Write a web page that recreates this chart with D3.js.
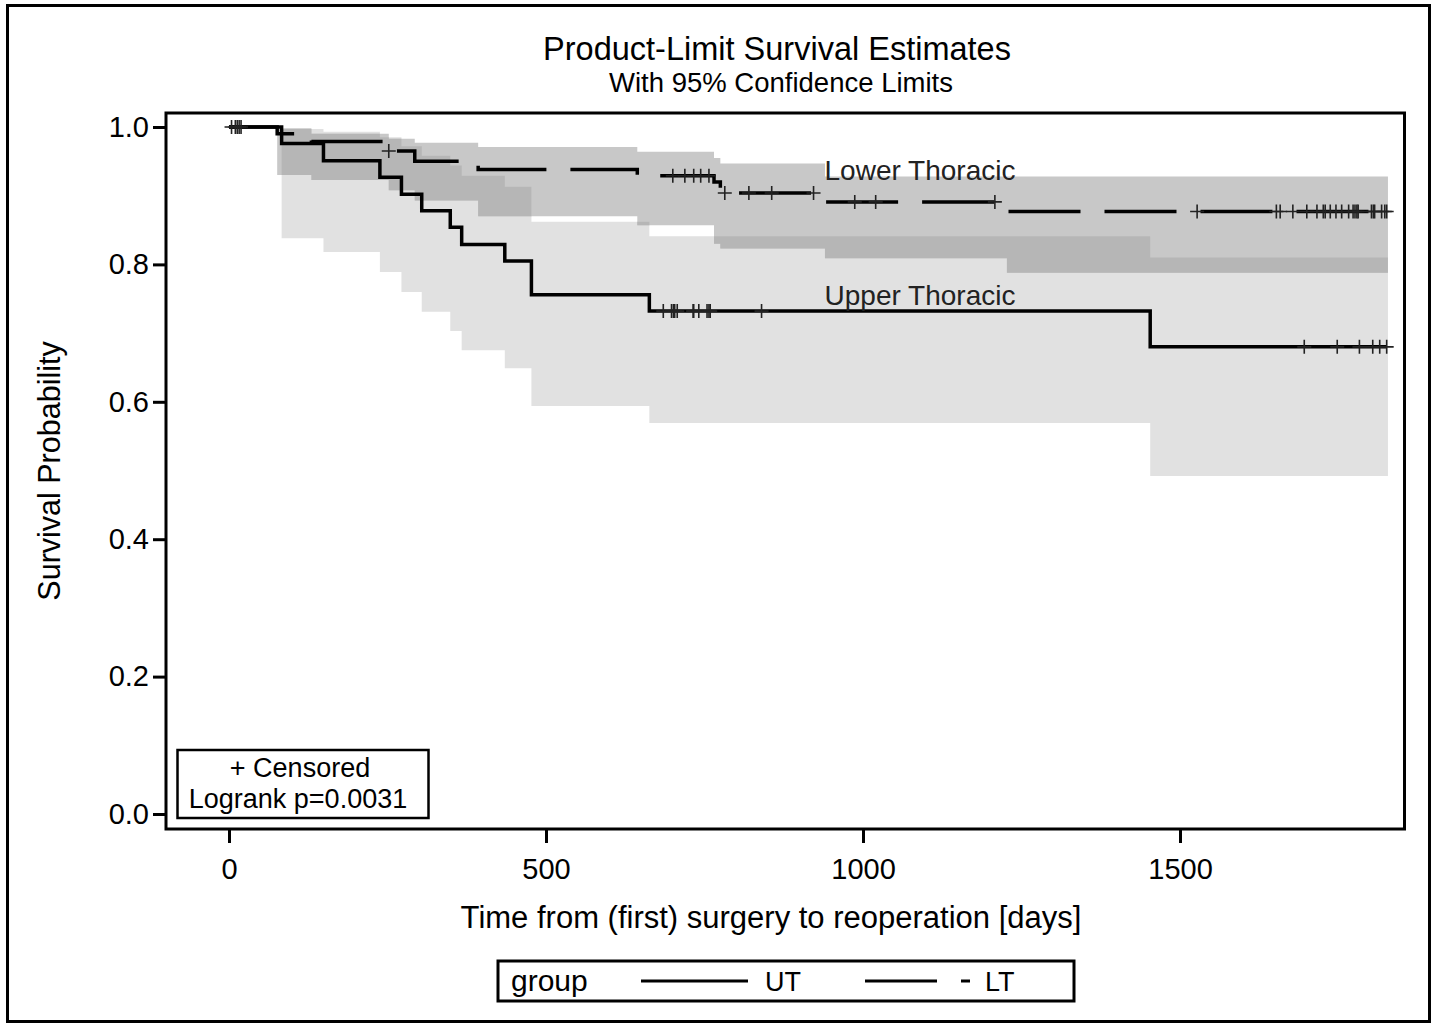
<!DOCTYPE html>
<html><head><meta charset="utf-8">
<script src="https://cdn.jsdelivr.net/npm/d3@7"></script>
<style>
body{margin:0;background:#fff}
text{font-family:"Liberation Sans",Arial,sans-serif;fill:#000}
</style>
</head><body>
<svg id="c" width="1437" height="1023"></svg>
<script>
// ---------- data ----------
const xTicks = [0, 500, 1000, 1500];
const yTicks = [0.0, 0.2, 0.4, 0.6, 0.8, 1.0];

// Upper Thoracic (UT) - solid
const utEventTimes = [83, 149, 238, 272, 304, 349, 367, 435, 477, 663, 1453];
const utSurv  = [0.976, 0.951, 0.927, 0.902, 0.878, 0.854, 0.829, 0.805, 0.756, 0.732, 0.680];
const utLower = [0.838, 0.818, 0.789, 0.760, 0.731, 0.703, 0.675, 0.649, 0.594, 0.569, 0.492];
const utUpper = [0.997, 0.993, 0.985, 0.972, 0.958, 0.944, 0.929, 0.913, 0.862, 0.841, 0.810];
const utCensor = [13, 19, 685, 698, 701, 703, 707, 732, 733, 741, 754, 757, 759, 840,
                  1696, 1748, 1783, 1804, 1815, 1826];
const utEnd = 1828;

// Lower Thoracic (LT) - dashed
const ltEventTimes = [76, 130, 252, 293, 393, 644, 765, 775, 940, 1227];
const ltSurv  = [0.990, 0.979, 0.965, 0.950, 0.938, 0.929, 0.920, 0.904, 0.891, 0.877];
const ltLower = [0.930, 0.923, 0.908, 0.893, 0.870, 0.857, 0.830, 0.823, 0.809, 0.788];
const ltUpper = [0.998, 0.990, 0.983, 0.977, 0.971, 0.964, 0.955, 0.947, 0.928, 0.928];
const ltCensor = [4, 10, 16, 252, 700, 719, 733, 744, 757, 782, 820, 856, 922, 987, 1020, 1208,
                  1527, 1652, 1658, 1678, 1700, 1716, 1726, 1729, 1737, 1746, 1755, 1766, 1773,
                  1776, 1779, 1781, 1802, 1805, 1807, 1818, 1823, 1826];
const ltEnd = 1828;

// ---------- layout ----------
const svg = d3.select("#c");
const frame = {l: 166, t: 113, r: 1404.5, b: 829};
const x = d3.scaleLinear().domain([0, 1500]).range([229, 1180]);
const y = d3.scaleLinear().domain([0, 1]).range([814, 127]);

function survAt(times, surv, t) {
  let s = 1;
  for (let i = 0; i < times.length; i++) if (times[i] <= t) s = surv[i];
  return s;
}
function linePts(times, surv, end) {
  const p = [[0, 1]];
  times.forEach((t, i) => p.push([t, surv[i]]));
  p.push([end, surv[surv.length - 1]]);
  return p;
}
function bandPts(times, lo, hi, end) {
  const p = times.map((t, i) => [t, lo[i], hi[i]]);
  p.push([end, lo[lo.length - 1], hi[hi.length - 1]]);
  return p;
}

const area = d3.area().curve(d3.curveStepAfter)
  .x(d => x(d[0])).y0(d => y(d[1])).y1(d => y(d[2]));
const line = d3.line().curve(d3.curveStepAfter)
  .x(d => x(d[0])).y(d => y(d[1]));

const utBand = bandPts(utEventTimes, utLower, utUpper, utEnd);
const ltBand = bandPts(ltEventTimes, ltLower, ltUpper, ltEnd);

const defs = svg.append("defs");
defs.append("clipPath").attr("id", "utClip").append("path").attr("d", area(utBand));

// outer border
svg.append("rect").attr("x", 7.5).attr("y", 5.5).attr("width", 1422).attr("height", 1016)
  .attr("fill", "none").attr("stroke", "#000").attr("stroke-width", 3);

// titles
svg.append("text").attr("x", 777).attr("y", 60).attr("text-anchor", "middle")
  .style("font-size", "32.5px").text("Product-Limit Survival Estimates");
svg.append("text").attr("x", 781).attr("y", 92).attr("text-anchor", "middle")
  .style("font-size", "27.5px").text("With 95% Confidence Limits");

// bands
svg.append("path").attr("d", area(utBand)).attr("fill", "#e1e1e1");
svg.append("path").attr("d", area(ltBand)).attr("fill", "#c8c8c8");
svg.append("path").attr("d", area(ltBand)).attr("fill", "#b6b6b6").attr("clip-path", "url(#utClip)");

// curves
svg.append("path").attr("d", line(linePts(utEventTimes, utSurv, 1826)))
  .attr("fill", "none").attr("stroke", "#000").attr("stroke-width", 3.5);
svg.append("path").attr("d", line(linePts(ltEventTimes, ltSurv, 1826)))
  .attr("fill", "none").attr("stroke", "#000").attr("stroke-width", 3.5)
  .attr("stroke-dasharray", "72,24");

// censor marks
function censors(times, evT, surv) {
  svg.append("g").selectAll("path").data(times).join("path")
    .attr("d", t => {
      const cx = x(t), cy = y(survAt(evT, surv, t));
      return `M${cx - 7},${cy}H${cx + 7}M${cx},${cy - 7}V${cy + 7}`;
    })
    .attr("stroke", "#222").attr("stroke-width", 1.6).attr("fill", "none");
}
censors(utCensor, utEventTimes, utSurv);
censors(ltCensor, ltEventTimes, ltSurv);

// curve labels
svg.append("text").attr("x", 920).attr("y", 180).attr("text-anchor", "middle")
  .style("font-size", "28px").style("fill", "#222").text("Lower Thoracic");
svg.append("text").attr("x", 920).attr("y", 305).attr("text-anchor", "middle")
  .style("font-size", "28px").style("fill", "#222").text("Upper Thoracic");

// axes
const yAxis = svg.append("g").attr("transform", `translate(${frame.l},0)`)
  .call(d3.axisLeft(y).tickValues(yTicks).tickSize(13).tickPadding(4).tickFormat(d3.format(".1f")));
const xAxis = svg.append("g").attr("transform", `translate(0,${frame.b})`)
  .call(d3.axisBottom(x).tickValues(xTicks).tickSize(14).tickPadding(15).tickFormat(d3.format("d")));
[yAxis, xAxis].forEach(a => {
  a.select(".domain").remove();
  a.selectAll(".tick line").attr("stroke", "#000").attr("stroke-width", 3);
  a.selectAll(".tick text").style("font-size", "29px").attr("fill", "#000")
    .style("font-family", "'Liberation Sans',Arial,sans-serif");
});

// axis titles
svg.append("text").attr("x", 771).attr("y", 928).attr("text-anchor", "middle")
  .style("font-size", "31px").text("Time from (first) surgery to reoperation [days]");
svg.append("text").attr("transform", "translate(60,471) rotate(-90)").attr("text-anchor", "middle")
  .style("font-size", "30.5px").text("Survival Probability");

// frame
svg.append("rect").attr("x", frame.l).attr("y", frame.t)
  .attr("width", frame.r - frame.l).attr("height", frame.b - frame.t)
  .attr("fill", "none").attr("stroke", "#000").attr("stroke-width", 3);

// inset box
svg.append("rect").attr("x", 177.5).attr("y", 750).attr("width", 251).attr("height", 68)
  .attr("fill", "#fff").attr("stroke", "#000").attr("stroke-width", 2.5);
svg.append("text").attr("x", 300).attr("y", 777).attr("text-anchor", "middle")
  .style("font-size", "27px").text("+ Censored");
svg.append("text").attr("x", 298).attr("y", 808).attr("text-anchor", "middle")
  .style("font-size", "27px").text("Logrank p=0.0031");

// legend
svg.append("rect").attr("x", 498).attr("y", 961).attr("width", 576).attr("height", 40)
  .attr("fill", "#fff").attr("stroke", "#000").attr("stroke-width", 3);
svg.append("text").attr("x", 511).attr("y", 991).style("font-size", "30px").text("group");
svg.append("line").attr("x1", 641).attr("x2", 748).attr("y1", 981).attr("y2", 981)
  .attr("stroke", "#000").attr("stroke-width", 3);
svg.append("text").attr("x", 765).attr("y", 991).style("font-size", "27px").text("UT");
svg.append("line").attr("x1", 865).attr("x2", 970).attr("y1", 981).attr("y2", 981)
  .attr("stroke", "#000").attr("stroke-width", 3).attr("stroke-dasharray", "72,24");
svg.append("text").attr("x", 985).attr("y", 991).style("font-size", "27px").text("LT");
</script>
</body></html>
